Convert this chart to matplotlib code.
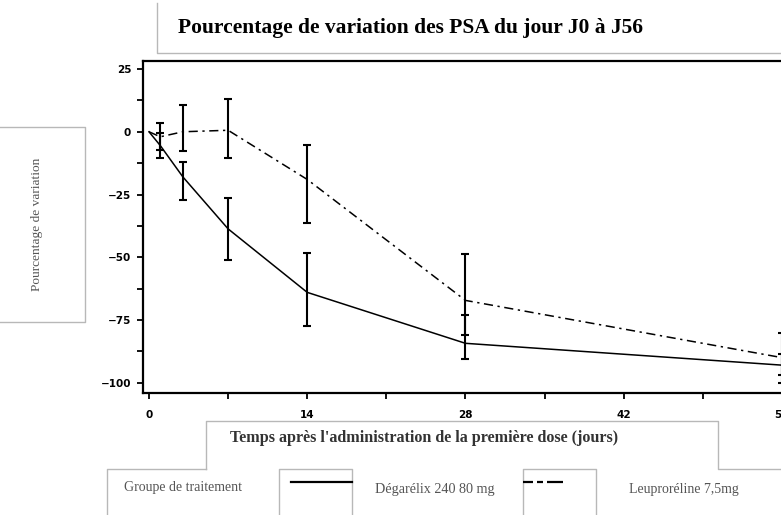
import numpy as np
import matplotlib
matplotlib.use("Agg")
import matplotlib.pyplot as plt
from matplotlib.lines import Line2D

# Données
jours = [0, 1, 3, 7, 14, 28, 56]
x_ticks = [0, 14, 28, 42, 56]
y_ticks = [25, 0, -25, -50, -75, -100]

degarelix_moy = [0, -5.5, -18, -38.7, -64, -84.3, -93]
degarelix_bas = [np.nan, -10.4, -27.3, -51.2, -77.4, -90.7, -97]
degarelix_haut = [np.nan, -0.6, -12, -26.3, -48.2, -73.1, -88.5]

leupro_moy = [0, -2, 0, 0.6, -19, -67.2, -90]
leupro_bas = [np.nan, -7.4, -7.5, -10.4, -36.3, -81.1, -100]
leupro_haut = [np.nan, 3.4, 10.6, 12.9, -5.4, -48.9, -80]

titre = "Pourcentage de variation des PSA du jour J0 à J56"
x_label = "Temps après l'administration de la première dose (jours)"
y_label = "Pourcentage de variation"
groupe = "Groupe de traitement"
noms = ["Dégarélix 240 80 mg", "Leuproréline 7,5mg"]

W, H = 781, 515
DASHDOT = (0, (6, 3, 1.5, 3))


def fx(x):
    return x / W


def fy(y):
    return 1 - y / H


fig = plt.figure(figsize=(W / 100, H / 100), dpi=100)

# axes : gauche 143 px, haut 61, bas 392.5, dépasse à droite
ax = fig.add_axes([fx(143), fy(392.5), fx(800 - 143), fy(61) - fy(392.5)])
ax.set_xlim(-0.53, 57.6)
ax.set_ylim(-103.9, 28.2)

ax.plot(jours, degarelix_moy, color="black", lw=1.1)
ax.plot(jours, leupro_moy, color="black", lw=1.1, linestyle=DASHDOT)

for moy, bas, haut in [(degarelix_moy, degarelix_bas, degarelix_haut),
                       (leupro_moy, leupro_bas, leupro_haut)]:
    m = np.array(moy)
    b = np.array(bas)
    h = np.array(haut)
    ok = ~np.isnan(b)
    yerr = [m[ok] - b[ok], h[ok] - m[ok]]
    ax.errorbar(np.array(jours)[ok], m[ok], yerr=yerr, fmt="none",
                ecolor="black", elinewidth=1.5, capsize=2.8, capthick=1.5)

ax.set_xticks(x_ticks)
ax.set_xticks([7, 21, 35, 49], minor=True)
ax.set_yticks(y_ticks)
ax.set_yticks([12.5, -12.5, -37.5, -62.5, -87.5], minor=True)
for lab in ax.get_xticklabels() + ax.get_yticklabels():
    lab.set_fontweight("bold")
ax.tick_params(axis="both", which="major", length=4.5, width=1.3, labelsize=7.5)
ax.tick_params(axis="both", which="minor", length=4, width=1.3)
ax.tick_params(axis="x", pad=8)
ax.tick_params(axis="y", pad=4)
for s in ax.spines.values():
    s.set_linewidth(1.6)

# boîtes grises
gris = "#b8b8b8"


def trait(pts):
    xs = [fx(p[0]) for p in pts]
    ys = [fy(p[1]) for p in pts]
    fig.add_artist(Line2D(xs, ys, color=gris, lw=1.0, transform=fig.transFigure))


trait([(157, 3), (157, 53), (800, 53)])
trait([(-5, 127), (85, 127), (85, 322), (-5, 322)])
trait([(206, 469), (206, 421), (718, 421), (718, 469), (800, 469)])
trait([(107, 520), (107, 469), (206, 469)])
trait([(279, 520), (279, 469), (352, 469), (352, 520)])
trait([(523, 520), (523, 469), (596, 469), (596, 520)])

# textes
fig.text(fx(178), fy(28), titre, fontsize=15.5, fontweight="bold",
         family="Liberation Serif", ha="left", va="center", color="black")
fig.text(fx(424), fy(438), x_label, fontsize=11.6, fontweight="bold",
         family="Liberation Serif", ha="center", va="center", color="#333333")
fig.text(fx(37), fy(224), y_label, fontsize=9.6, rotation=90,
         family="Liberation Serif", ha="center", va="center", color="#555555")
fig.text(fx(183), fy(487), groupe, fontsize=10, family="Liberation Serif",
         ha="center", va="center", color="#555555")
fig.text(fx(375), fy(490), noms[0], fontsize=10.2, family="Liberation Serif",
         ha="left", va="center", color="#555555")
fig.text(fx(629), fy(489), noms[1], fontsize=10, family="Liberation Serif",
         ha="left", va="center", color="#555555")

# échantillons de légende
fig.add_artist(Line2D([fx(291), fx(352)], [fy(482), fy(482)], color="black",
                      lw=1.6, transform=fig.transFigure))
fig.add_artist(Line2D([fx(523), fx(568)], [fy(482), fy(482)], color="black",
                      lw=1.6, linestyle=(0, (4.5, 1.8, 2.7, 1.8, 7.2, 5)),
                      transform=fig.transFigure))

fig.savefig("out.png", dpi=100)
